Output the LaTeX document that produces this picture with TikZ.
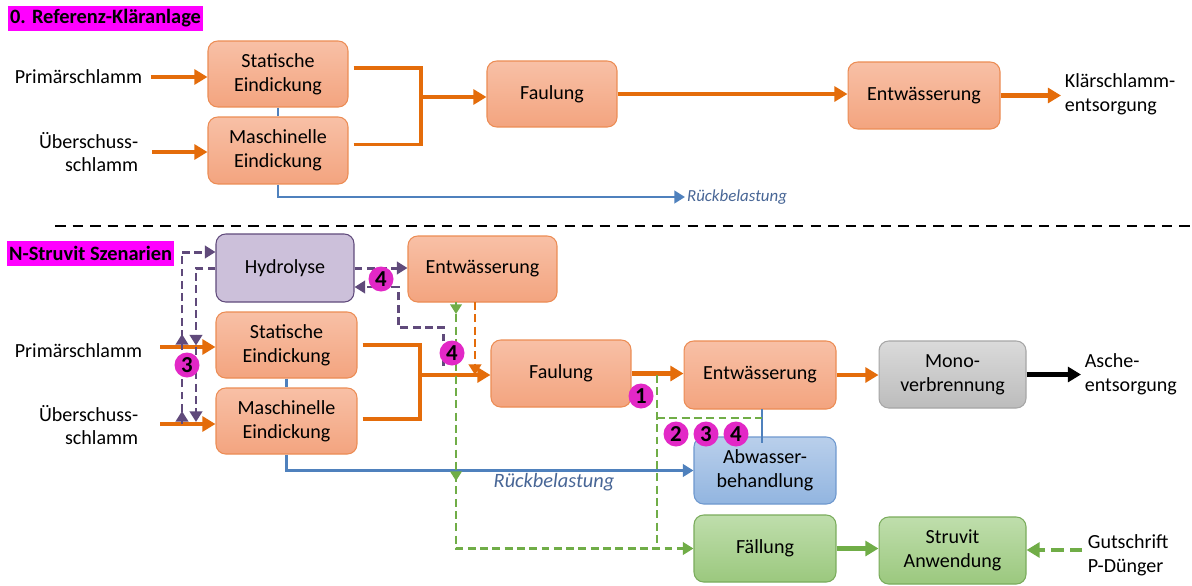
\documentclass[tikz,border=0pt]{standalone}
\usepackage{fontspec}
\setmainfont{Carlito}
\usetikzlibrary{arrows.meta,decorations.markings,calc}
\definecolor{ortop}{RGB}{248,192,166}
\definecolor{orbot}{RGB}{243,164,127}
\definecolor{ordraw}{RGB}{236,140,84}
\definecolor{hyfill}{RGB}{204,192,218}
\definecolor{hydraw}{RGB}{96,74,123}
\definecolor{grtop}{RGB}{218,218,218}
\definecolor{grbot}{RGB}{188,188,188}
\definecolor{grdraw}{RGB}{166,166,166}
\definecolor{bltop}{RGB}{185,207,235}
\definecolor{blbot}{RGB}{146,181,224}
\definecolor{bldraw}{RGB}{110,152,206}
\definecolor{gntop}{RGB}{191,222,172}
\definecolor{gnbot}{RGB}{155,200,126}
\definecolor{gndraw}{RGB}{122,172,92}
\definecolor{arrOr}{RGB}{228,108,10}
\definecolor{arrBl}{RGB}{79,129,189}
\definecolor{arrGn}{RGB}{112,173,71}
\definecolor{arrPu}{RGB}{96,74,123}
\definecolor{badgecol}{RGB}{226,40,198}
\definecolor{titlemag}{RGB}{255,0,255}
\definecolor{rueck}{RGB}{72,102,150}
\newcommand{\bxfont}{\fontsize{11.4}{13.6}\selectfont}
\newcommand{\bdfont}{\fontsize{11.6}{13.6}\selectfont\bfseries}
\newcommand{\bgfont}{\fontsize{13}{14}\selectfont\bfseries}
\begin{document}
\begin{tikzpicture}[x=0.02cm,y=-0.02cm,
  box/.style={rounded corners=5.5pt, align=center, inner sep=2pt, font=\bxfont, line width=0.6pt},
  obox/.style={box, draw=ordraw, top color=ortop, bottom color=orbot},
  hbox/.style={box, draw=hydraw, fill=hyfill},
  gbox/.style={box, draw=grdraw, top color=grtop, bottom color=grbot},
  bbox/.style={box, draw=bldraw, top color=bltop, bottom color=blbot},
  nbox/.style={box, draw=gndraw, top color=gntop, bottom color=gnbot},
  lbl/.style={font=\bxfont, inner sep=2pt},
  ttl/.style={font=\bdfont, fill=titlemag, inner xsep=1pt, inner ysep=0pt, minimum height=0.5cm},
  badge/.style={circle, fill=badgecol, inner sep=0pt, minimum size=0.5cm, font=\bgfont},
  oarr/.style={draw=arrOr, line width=2.7pt, -{Triangle[length=7.5pt,width=8.5pt]}},
  oline/.style={draw=arrOr, line width=1.8pt},
  karr/.style={draw=black, line width=2.7pt, -{Triangle[length=7.5pt,width=8.5pt]}},
  garr/.style={draw=arrGn, line width=2.7pt, -{Triangle[length=7.5pt,width=8.5pt]}},
  gdarr/.style={draw=arrGn, line width=2.7pt, dash pattern=on 7pt off 3.5pt, -{Triangle[length=7.5pt,width=8.5pt]}},
  bline/.style={draw=arrBl, line width=1.5pt},
  barr/.style={bline, -{Triangle[length=6pt,width=7pt]}},
  gdash/.style={draw=arrGn, line width=1.6pt, dash pattern=on 4.5pt off 2.5pt},
  odash/.style={draw=arrOr, line width=1.6pt, dash pattern=on 4.5pt off 2.5pt, -{Triangle[length=6pt,width=7pt]}},
  pdash/.style={draw=arrPu, line width=1.7pt, dash pattern=on 4.5pt off 2.5pt, -{Triangle[length=6pt,width=7pt]}},
  sep/.style={draw=black, line width=1.6pt, dash pattern=on 6pt off 4pt}
]
\useasboundingbox (0,0) rectangle (1192,585);
\fill[white] (0,0) rectangle (1192,585);

% ---------- top section ----------
\node[ttl, anchor=west] (t0) at (8,18.5) {0. Referenz-Kläranlage};
\node[obox, minimum width=2.8cm, minimum height=1.32cm] (s0) at (278,74) {Statische\\Eindickung};
\node[obox, minimum width=2.8cm, minimum height=1.34cm] (m0) at (278,150.5) {Maschinelle\\Eindickung};
\node[obox, minimum width=2.6cm, minimum height=1.32cm] (f0) at (552,94) {Faulung};
\node[obox, minimum width=3.04cm, minimum height=1.34cm] (e0) at (924,95.5) {Entwässerung};
\node[lbl, anchor=west] (p0) at (11,77) {Primärschlamm};
\node[lbl, anchor=east, align=right] (u0) at (142,152) {Überschuss-\\schlamm};
\node[lbl, anchor=west, align=left] (k0) at (1061,94) {Klärschlamm-\\entsorgung};
\node[anchor=west, inner sep=1pt, text=rueck, font=\fontsize{9.6}{11}\selectfont\itshape] (r0) at (685,197) {Rückbelastung};

\draw[oarr] ([xshift=0.1cm]p0.east) -- (p0.east -| s0.west);
\draw[oarr] ([xshift=0.2cm]u0.east) -- (u0.east -| m0.west);
\coordinate (j0) at (421,97);
\draw[oline] ([xshift=0.1cm,yshift=0.12cm]s0.east) -| (j0);
\draw[oline] ([xshift=0.1cm,yshift=0.12cm]m0.east) -| (j0);
\draw[oarr] (j0) -- (j0 -| f0.west);
\draw[oarr] (f0.east) -- (f0.east -| e0.west);
\draw[oarr] (e0.east) -- (e0.east -| k0.west);
\draw[bline] (s0.south) -- (m0.north);
\draw[barr] (m0.south) |- (r0.west);

\draw[sep] (55,226) -- (1192,226);

% ---------- bottom section ----------
\node[ttl, anchor=west] (t1) at (7,253) {N-Struvit Szenarien};
\node[hbox, minimum width=2.76cm, minimum height=1.36cm] (hy) at (285,268) {Hydrolyse};
\node[obox, minimum width=2.98cm, minimum height=1.32cm] (ew) at (482.5,269) {Entwässerung};
\node[obox, minimum width=2.82cm, minimum height=1.32cm] (s1) at (286.5,345) {Statische\\Eindickung};
\node[obox, minimum width=2.82cm, minimum height=1.32cm] (m1) at (286.5,421) {Maschinelle\\Eindickung};
\node[obox, minimum width=2.8cm, minimum height=1.34cm] (f1) at (561,373.5) {Faulung};
\node[obox, minimum width=3.04cm, minimum height=1.36cm] (e1) at (760,375) {Entwässerung};
\node[gbox, minimum width=2.94cm, minimum height=1.34cm] (mv) at (952.5,374.5) {Mono-\\verbrennung};
\node[bbox, minimum width=2.84cm, minimum height=1.34cm] (ab) at (765,470.5) {Abwasser-\\behandlung};
\node[nbox, minimum width=2.84cm, minimum height=1.34cm] (fa) at (765,548.5) {Fällung};
\node[nbox, minimum width=2.94cm, minimum height=1.34cm] (st) at (952.5,550.5) {Struvit\\Anwendung};

\node[lbl, anchor=west] (p1) at (11,351) {Primärschlamm};
\node[lbl, anchor=east, align=right] (u1) at (142,425) {Überschuss-\\schlamm};
\node[lbl, anchor=west, align=left] (a1) at (1081,374.5) {Asche-\\entsorgung};
\node[lbl, anchor=west, align=left] (g1) at (1084,555) {Gutschrift\\P-Dünger};
\node[inner sep=1pt, text=rueck, font=\fontsize{11.6}{13}\selectfont\itshape] (r1) at (554,482) {Rückbelastung};

% main orange flow
\coordinate (pl) at (160,347);
\coordinate (ul) at (160,424);
\draw[oarr] (pl) -- (pl -| s1.west);
\draw[oarr] (ul) -- (ul -| m1.west);
\coordinate (j1) at (420,375);
\draw[oline] ([xshift=0.1cm]s1.east) -| (j1);
\draw[oline] ([xshift=0.1cm,yshift=0.04cm]m1.east) -| (j1);
\draw[oarr] (j1) -- (j1 -| f1.west);
\draw[oarr] (f1.east) -- (f1.east -| e1.west);
\draw[oarr] (e1.east) -- (e1.east -| mv.west);
\draw[karr] (mv.east) -- (mv.east -| a1.west);
\draw[garr] (fa.east) -- (fa.east -| st.west);
\coordinate (gs) at (1082,550);
\draw[gdarr] (gs) -- (gs -| st.east);

% blue
\draw[bline] (s1.south) -- (m1.north);
\draw[barr] (m1.south) |- (ab.west);
\coordinate (eb) at (762,409);
\coordinate (abt) at (762,443);
\draw[bline] (eb) -- (abt);

% green dashed
\coordinate (gtop) at (456,302);
\coordinate (gbot) at (456,548.5);
\coordinate (gB) at (657,375);
\coordinate (gC) at (657,418);
\coordinate (gD) at (762,418);
\draw[gdash, -{Triangle[length=6pt,width=7pt]},
  postaction={decorate},
  decoration={markings,
    mark=at position 0.24cm with {\arrow{Triangle[length=5.5pt,width=6.5pt]}},
    mark=at position 3.58cm with {\arrow{Triangle[length=5.5pt,width=6.5pt]}}}]
  (gtop) -- (gbot) -- (gbot -| fa.west);
\draw[gdash] (gB) -- (gB |- gbot);
\draw[gdash] (gC) -- (gD);

% orange dashed
\coordinate (otop) at (475,302);
\draw[odash] (otop) -- (otop |- j1);

% purple dashed
\coordinate (pA) at (182,424);
\draw[pdash, postaction={decorate},
  decoration={markings,
    mark=at position 0.26cm with {\arrow{Triangle[length=6pt,width=7pt]}},
    mark=at position 1.8cm with {\arrow{Triangle[length=6pt,width=7pt]}}}]
  (pA) |- ([yshift=0.32cm]hy.west);
\coordinate (pB) at (196,268);
\coordinate (pBe) at (196,422);
\draw[pdash, postaction={decorate},
  decoration={markings,
    mark=at position 1.94cm with {\arrow{Triangle[length=6pt,width=7pt]}}}]
  (hy.west) -- (pB) -- (pBe);
\draw[pdash] (hy.east) -- (hy.east -| ew.west);
\coordinate (pC) at (443,366);
\coordinate (pD) at (398,327);
\draw[pdash] (pC) |- (pD) |- ([yshift=-0.38cm]hy.east);

% badges
\node[badge] (b4a) at (381,279) {4};
\node[badge] (b3a) at (187,365) {3};
\node[badge] (b4b) at (452,353) {4};
\node[badge] (b1) at (641,396) {1};
\node[badge] (b2) at (676,434) {2};
\node[badge] (b3b) at (706,434) {3};
\node[badge] (b4c) at (736,434) {4};
\end{tikzpicture}
\end{document}
